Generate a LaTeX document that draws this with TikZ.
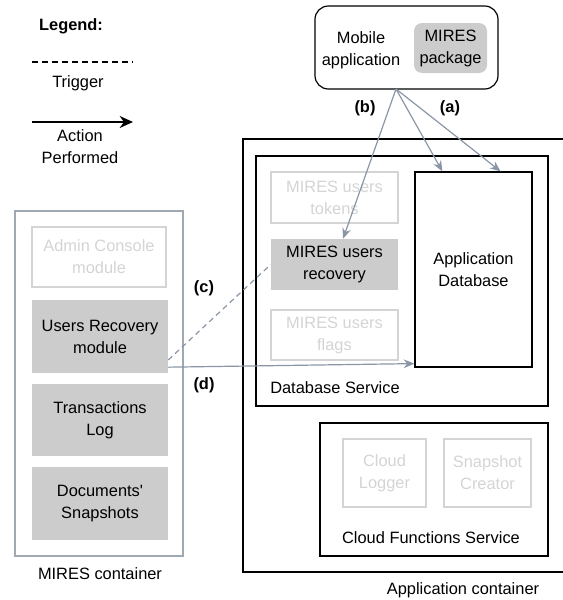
\documentclass[tikz,border=0pt]{standalone}
\usepackage{fontspec}
\setmainfont{Liberation Sans}
\usetikzlibrary{arrows.meta}
\definecolor{boxgray}{RGB}{204,204,204}
\definecolor{faintgray}{RGB}{212,212,212}
\definecolor{linkgray}{RGB}{138,150,165}
\definecolor{framegray}{RGB}{160,168,178}

\begin{document}
\begin{tikzpicture}
  [x=0.75pt,y=-0.75pt,
    every node/.style={font=\fontsize{12.3}{16.5}\selectfont,align=center,inner sep=0pt},
    box/.style={draw,line width=0.9pt},
    dbox/.style={fill=boxgray},
    faint/.style={draw=faintgray,text=faintgray,line width=0.8pt},
    mcont/.style={draw=framegray,line width=0.8pt},
    link/.style={draw=linkgray,line width=0.9pt,-{Stealth[length=8pt,width=6.5pt]}},
    trig/.style={draw=linkgray,line width=0.9pt,dash pattern=on 4pt off 3pt},
]
  \useasboundingbox (0,0) rectangle (563,600);

  \node[font=\bfseries\fontsize{12.3}{16.5}\selectfont](legend) at (71,26) {Legend:};
  \coordinate (tga) at (32,62);
  \coordinate (tgb) at (133,62);
  \draw[dash pattern=on 4.5pt off 3pt,line width=0.8pt] (tga) -- (tgb);
  \node(trigger) at (78,83) {Trigger};
  \coordinate (aca) at (32,122);
  \coordinate (acb) at (133,122);
  \draw[line width=1pt,-{Stealth[length=10pt,width=9pt]}] (aca) -- (acb);
  \node(action) at (80,146.5) {Action\\Performed};

  \node[box,rounded corners=10pt,minimum width=137.25pt,minimum height=62.25pt](mobile) at (406.5,47.5) {};
  \node(mobtext) at (361,50.5) {Mobile\\application};
  \node[dbox,rounded corners=6pt,minimum width=54.75pt,minimum height=37.5pt](pkg) at (450.5,48) {MIRES\\package};

  \draw[box] (580,139)--(243,139)--(243,572)--(580,572);
  \node(appcont) at (463,590) {Application container};

  \node[box,minimum width=219pt,minimum height=187.5pt](dbs) at (402,281) {};
  \node[anchor=west](dbslabel) at (270,388) {Database Service};
  \node[box,minimum width=87.75pt,minimum height=146.25pt](appdb) at (473.5,269.5) {Application\\Database};
  \node[faint,minimum width=95.25pt,minimum height=38.25pt](tokens) at (334.5,197.5) {MIRES users\\tokens};
  \node[dbox,minimum width=95.25pt,minimum height=38.25pt](recov) at (334.5,264.5) {MIRES users\\recovery};
  \node[faint,minimum width=95.25pt,minimum height=37.5pt](flags) at (334.5,335) {MIRES users\\flags};

  \node[box,minimum width=171pt,minimum height=99.75pt](cfs) at (434,489.5) {};
  \node(cfslabel) at (431,538) {Cloud Functions Service};
  \node[faint,minimum width=62.25pt,minimum height=51pt](logger) at (384.5,473) {Cloud\\Logger};
  \node[faint,minimum width=65.25pt,minimum height=51pt](snap) at (487.5,473) {Snapshot\\Creator};

  \node[mcont,minimum width=126pt,minimum height=258.75pt](mcont) at (99,383.5) {};
  \node(mlabel) at (100,574) {MIRES container};
  \node[faint,minimum width=100.5pt,minimum height=45pt](admin) at (99,257) {Admin Console\\module};
  \node[dbox,minimum width=102pt,minimum height=54.75pt](urecov) at (100,336.5) {Users Recovery\\module};
  \node[dbox,minimum width=102pt,minimum height=54pt](tlog) at (100,420) {Transactions\\Log};
  \node[dbox,minimum width=102pt,minimum height=54.75pt](dsnap) at (100,503.5) {Documents\textquotesingle\\Snapshots};

  \coordinate (tap) at (396,89);
  \draw[link] (tap) -- ([xshift=21pt]appdb.north west);
  \draw[link] (tap) -- ([xshift=-24pt]appdb.north east);
  \draw[link] (tap) -- ([xshift=6.4pt]recov.north);
  \draw[trig] ([yshift=-17.6pt]urecov.east) -- (recov.west);
  \draw[link] ([yshift=-23pt]urecov.east) -- ([yshift=3pt]appdb.south west);

  \node[font=\bfseries\fontsize{12.3}{16.5}\selectfont](la) at (450,108) {(a)};
  \node[font=\bfseries\fontsize{12.3}{16.5}\selectfont](lb) at (365,108) {(b)};
  \node[font=\bfseries\fontsize{12.3}{16.5}\selectfont](lc) at (204,288) {(c)};
  \node[font=\bfseries\fontsize{12.3}{16.5}\selectfont](ld) at (204,385) {(d)};

\end{tikzpicture}
\end{document}
